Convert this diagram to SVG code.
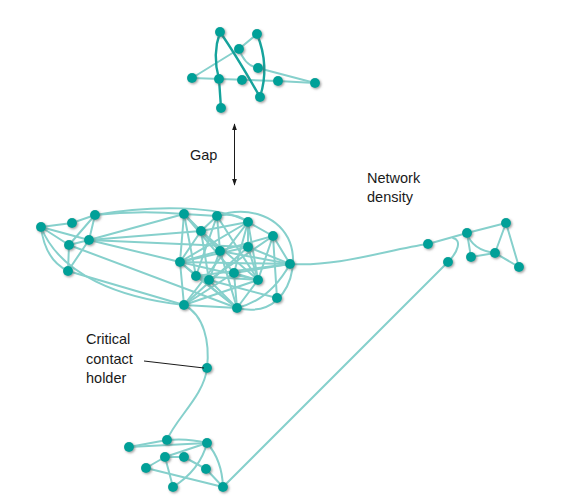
<svg xmlns="http://www.w3.org/2000/svg" width="582" height="503" viewBox="0 0 582 503">
<defs>
<style>
.e{fill:none;stroke:#86d0cc;stroke-width:2;stroke-linecap:round}
.d{fill:none;stroke:#16a39c;stroke-width:2.4;stroke-linecap:round}
.n circle{fill:#06a098;filter:url(#sh)}
.t{font-family:"Liberation Sans",Arial,sans-serif;font-size:14.5px;fill:#1a1a1a}
</style>
<filter id="sh" x="-50%" y="-50%" width="200%" height="200%">
<feDropShadow dx="1.2" dy="1.2" stdDeviation="0.8" flood-color="#555" flood-opacity="0.55"/>
</filter>
<marker id="ah" viewBox="0 0 10 10" refX="9" refY="5" markerWidth="7" markerHeight="7" orient="auto-start-reverse">
<path d="M0,1.5 L10,5 L0,8.5 Z" fill="#1a1a1a"/>
</marker>
</defs>
<rect width="582" height="503" fill="#ffffff"/>
<g id="connectors">
<!-- top cluster -->
<path class="e" d="M239,49 L257,34"/>
<path class="e" d="M239,49 L192,78"/>
<path class="e" d="M239,49 Q245,66 258,68"/>
<path class="e" d="M192,78 L278,81"/>
<path class="e" d="M278,81 L315,83"/>
<path class="e" d="M258,68 L315,83"/>
<path class="d" d="M220,32 Q212,55 219,79"/>
<path class="d" d="M220,32 Q236,55 260,97"/>
<path class="d" d="M257,34 Q270,66 260,97"/>
<path class="d" d="M219,79 L221,108"/>
<!-- left cluster -->
<path class="e" d="M41,227 L72,223 L95,215"/>
<path class="e" d="M41,227 L89,240"/>
<path class="e" d="M41,227 L69,245"/>
<path class="e" d="M41,227 Q45,260 68,271"/>
<path class="e" d="M95,215 L69,245"/>
<path class="e" d="M95,215 L89,240"/>
<path class="e" d="M69,245 L89,240"/>
<path class="e" d="M69,245 L68,271"/>
<path class="e" d="M89,240 L68,271"/>
<path class="e" d="M95,215 Q140,210 184,214"/>
<path class="e" d="M95,215 C150,205 220,205 248,222"/>
<path class="e" d="M89,240 L184,214"/>
<path class="e" d="M89,240 L201,231"/>
<path class="e" d="M89,240 L180,262"/>
<path class="e" d="M89,240 L248,247"/>
<path class="e" d="M69,245 L237,308"/>
<path class="e" d="M68,271 L184,305"/>
<path class="e" d="M41,227 C60,275 120,298 184,305"/>
<!-- middle cluster -->
<path class="e" d="M184,214 L217,216"/>
<path class="e" d="M184,214 L201,231"/>
<path class="e" d="M184,214 L180,262"/>
<path class="e" d="M184,214 L220,251"/>
<path class="e" d="M184,214 L234,273"/>
<path class="e" d="M184,214 L196,276"/>
<path class="e" d="M217,216 Q235,212 248,222"/>
<path class="e" d="M217,216 L201,231"/>
<path class="e" d="M217,216 L220,251"/>
<path class="e" d="M217,216 L196,276"/>
<path class="e" d="M217,216 L258,280"/>
<path class="e" d="M248,222 L273,236"/>
<path class="e" d="M248,222 L248,247"/>
<path class="e" d="M248,222 L180,262"/>
<path class="e" d="M248,222 L258,280"/>
<path class="e" d="M248,222 L234,273"/>
<path class="e" d="M248,222 L184,305"/>
<path class="e" d="M201,231 L180,262"/>
<path class="e" d="M201,231 L220,251"/>
<path class="e" d="M201,231 L248,222"/>
<path class="e" d="M201,231 L258,280"/>
<path class="e" d="M201,231 L209,280"/>
<path class="e" d="M273,236 L290,264"/>
<path class="e" d="M273,236 L258,280"/>
<path class="e" d="M273,236 L180,262"/>
<path class="e" d="M273,236 L277,298"/>
<path class="e" d="M273,236 L209,280"/>
<path class="e" d="M220,251 L290,264"/>
<path class="e" d="M220,251 L209,280"/>
<path class="e" d="M220,251 L237,308"/>
<path class="e" d="M248,247 L180,262"/>
<path class="e" d="M248,247 L184,305"/>
<path class="e" d="M248,247 L290,264"/>
<path class="e" d="M248,247 L258,280"/>
<path class="e" d="M180,262 L290,264"/>
<path class="e" d="M180,262 L196,276"/>
<path class="e" d="M180,262 L184,305"/>
<path class="e" d="M180,262 L237,308"/>
<path class="e" d="M180,262 L258,280"/>
<path class="e" d="M290,264 Q270,300 237,308"/>
<path class="e" d="M290,264 L196,276"/>
<path class="e" d="M290,264 L234,273"/>
<path class="e" d="M196,276 L209,280"/>
<path class="e" d="M196,276 L237,308"/>
<path class="e" d="M196,276 L258,280"/>
<path class="e" d="M234,273 L184,305"/>
<path class="e" d="M234,273 L237,308"/>
<path class="e" d="M234,273 L258,280"/>
<path class="e" d="M209,280 L237,308"/>
<path class="e" d="M209,280 L277,298"/>
<path class="e" d="M258,280 L184,305"/>
<path class="e" d="M258,280 L237,308"/>
<path class="e" d="M184,305 L237,308"/>
<path class="e" d="M217,216 C245,206 275,214 288,238 C297,256 294,284 277,300 C265,311 250,311 237,308"/>
<!-- bridges -->
<path class="e" d="M290,264 C340,267 390,249 428,244"/>
<path class="e" d="M184,305 C204,315 210,342 207,368 C204,396 176,418 167,440"/>
<path class="e" d="M223,487 L448,262 C458,252 462,240 453,238"/>
<!-- right cluster -->
<path class="e" d="M428,244 L467,233 L506,223"/>
<path class="e" d="M467,233 L471,257"/>
<path class="e" d="M467,233 Q472,250 495,253"/>
<path class="e" d="M471,257 L495,253"/>
<path class="e" d="M506,223 L495,253"/>
<path class="e" d="M506,223 L519,267"/>
<path class="e" d="M495,253 L519,267"/>
<!-- bottom cluster -->
<path class="e" d="M129,447 L167,440"/>
<path class="e" d="M129,447 L207,443"/>
<path class="e" d="M167,440 Q188,438 207,443"/>
<path class="e" d="M165,457 L207,443"/>
<path class="e" d="M165,457 L184,457"/>
<path class="e" d="M165,457 L146,468"/>
<path class="e" d="M165,457 L173,487"/>
<path class="e" d="M184,457 L206,469"/>
<path class="e" d="M206,469 L223,487"/>
<path class="e" d="M146,468 L223,487"/>
<path class="e" d="M207,443 Q200,470 173,487"/>
<path class="e" d="M207,443 Q222,460 223,487"/>
</g>
<g id="nodes" class="n">
<g id="t1"><circle cx="220" cy="32" r="5"/></g>
<g id="t2"><circle cx="257" cy="34" r="5"/></g>
<g id="t3"><circle cx="239" cy="49" r="5"/></g>
<g id="t4"><circle cx="258" cy="68" r="5"/></g>
<g id="t5"><circle cx="192" cy="78" r="5"/></g>
<g id="t6"><circle cx="219" cy="79" r="5"/></g>
<g id="t7"><circle cx="242" cy="80" r="5"/></g>
<g id="t8"><circle cx="278" cy="81" r="5"/></g>
<g id="t9"><circle cx="315" cy="83" r="5"/></g>
<g id="t10"><circle cx="260" cy="97" r="5"/></g>
<g id="t11"><circle cx="221" cy="108" r="5"/></g>
<g id="l1"><circle cx="41" cy="227" r="5"/></g>
<g id="l2"><circle cx="72" cy="223" r="5"/></g>
<g id="l3"><circle cx="95" cy="215" r="5"/></g>
<g id="l4"><circle cx="89" cy="240" r="5"/></g>
<g id="l5"><circle cx="69" cy="245" r="5"/></g>
<g id="l6"><circle cx="68" cy="271" r="5"/></g>
<g id="m1"><circle cx="184" cy="214" r="5"/></g>
<g id="m2"><circle cx="217" cy="216" r="5"/></g>
<g id="m3"><circle cx="248" cy="222" r="5"/></g>
<g id="m4"><circle cx="201" cy="231" r="5"/></g>
<g id="m5"><circle cx="273" cy="236" r="5"/></g>
<g id="m6"><circle cx="220" cy="251" r="5"/></g>
<g id="m7"><circle cx="248" cy="247" r="5"/></g>
<g id="m8"><circle cx="180" cy="262" r="5"/></g>
<g id="m9"><circle cx="290" cy="264" r="5"/></g>
<g id="m10"><circle cx="196" cy="276" r="5"/></g>
<g id="m11"><circle cx="234" cy="273" r="5"/></g>
<g id="m12"><circle cx="209" cy="280" r="5"/></g>
<g id="m13"><circle cx="258" cy="280" r="5"/></g>
<g id="m14"><circle cx="277" cy="298" r="5"/></g>
<g id="m15"><circle cx="184" cy="305" r="5"/></g>
<g id="m16"><circle cx="237" cy="308" r="5"/></g>
<g id="crit"><circle cx="207" cy="368" r="5"/></g>
<g id="r1"><circle cx="428" cy="244" r="5"/></g>
<g id="r2"><circle cx="467" cy="233" r="5"/></g>
<g id="r3"><circle cx="506" cy="223" r="5"/></g>
<g id="r4"><circle cx="448" cy="262" r="5"/></g>
<g id="r5"><circle cx="471" cy="257" r="5"/></g>
<g id="r6"><circle cx="495" cy="253" r="5"/></g>
<g id="r7"><circle cx="519" cy="267" r="5"/></g>
<g id="b1"><circle cx="129" cy="447" r="5"/></g>
<g id="b2"><circle cx="167" cy="440" r="5"/></g>
<g id="b3"><circle cx="207" cy="443" r="5"/></g>
<g id="b4"><circle cx="165" cy="457" r="5"/></g>
<g id="b5"><circle cx="184" cy="457" r="5"/></g>
<g id="b6"><circle cx="146" cy="468" r="5"/></g>
<g id="b7"><circle cx="206" cy="469" r="5"/></g>
<g id="b8"><circle cx="173" cy="487" r="5"/></g>
<g id="b9"><circle cx="223" cy="487" r="5"/></g>
</g>
<g id="annotations">
<line x1="234.5" y1="124" x2="234.5" y2="185" stroke="#1a1a1a" stroke-width="1" marker-start="url(#ah)" marker-end="url(#ah)"/>
<text class="t" x="190" y="160">Gap</text>
<text class="t" x="367" y="183">Network</text>
<text class="t" x="367" y="202">density</text>
<text class="t" x="86" y="344">Critical</text>
<text class="t" x="86" y="364">contact</text>
<text class="t" x="86" y="383">holder</text>
<line x1="144" y1="361" x2="204" y2="368" stroke="#1a1a1a" stroke-width="1"/>
</g>
</svg>
